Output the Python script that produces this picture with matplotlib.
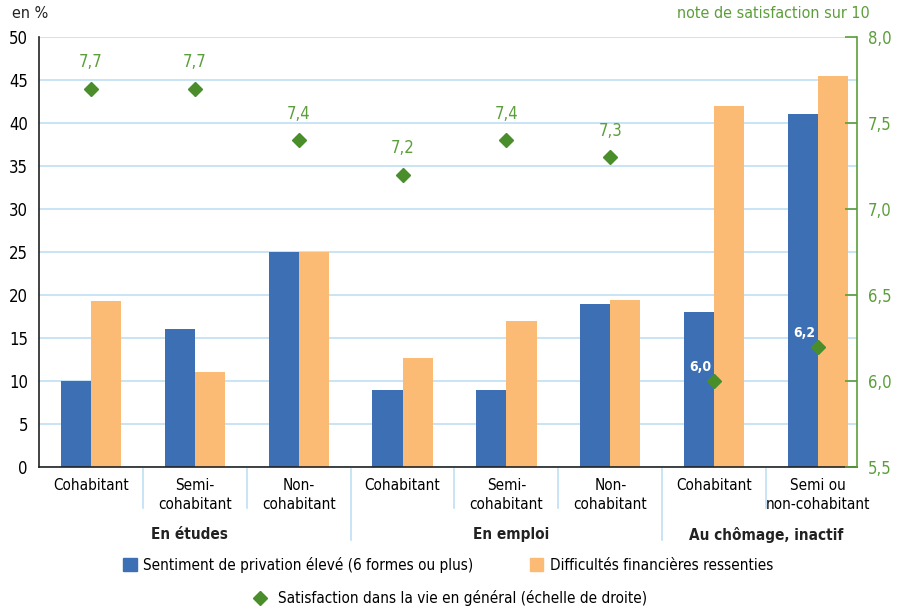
import matplotlib

matplotlib.use('Agg')
import matplotlib.pyplot as plt
from matplotlib.lines import Line2D
from matplotlib.patches import Patch
import matplotlib.transforms as mtransforms

plt.rcParams['font.family'] = ['DejaVu Sans']
plt.rcParams['font.stretch'] = 'condensed'

categories = ["Cohabitant", "Semi-\ncohabitant", "Non-\ncohabitant",
              "Cohabitant", "Semi-\ncohabitant", "Non-\ncohabitant",
              "Cohabitant", "Semi ou\nnon-cohabitant"]
groups = ["En études", "En emploi", "Au chômage, inactif"]
privation = [10, 16, 25, 9, 9, 19, 18, 41]
difficultes = [19.3, 11, 25, 12.7, 17, 19.4, 42, 45.5]
satisfaction = [7.7, 7.7, 7.4, 7.2, 7.4, 7.3, 6.0, 6.2]
sat_labels = ["7,7", "7,7", "7,4", "7,2", "7,4", "7,3", "6,0", "6,2"]

blue = '#3d6fb5'
orange = '#fbbb74'
green = '#5b9e3a'
dgreen = '#4a8e2c'
grid_c = '#bfe0f4'

fig = plt.figure(figsize=(9.12, 6.10), dpi=100)
ax = fig.add_axes([39 / 912, 1 - 467 / 610, (857 - 39) / 912, 430 / 610])

x = list(range(len(categories)))
w = 0.29
ax.bar([i - w / 2 for i in x], privation, w, color=blue, zorder=2)
ax.bar([i + w / 2 for i in x], difficultes, w, color=orange, zorder=2)

ax.set_xlim(-0.5, 7.375)
ax.set_ylim(0, 50)
ax.set_yticks(range(0, 51, 5))
ax.yaxis.grid(True, color=grid_c, linewidth=1.2, zorder=0)
ax.set_axisbelow(True)
ax.tick_params(axis='y', length=0, labelsize=12, pad=8)
ax.set_xticks(x)
ax.set_xticklabels(categories, fontsize=11, linespacing=1.35)
ax.tick_params(axis='x', length=0, pad=8)
for s in ['top', 'right']:
    ax.spines[s].set_visible(False)
ax.spines['left'].set_color('#222222')
ax.spines['bottom'].set_color('#222222')
ax.spines['left'].set_linewidth(1.2)
ax.spines['bottom'].set_linewidth(1.2)

# separators below the axis
trans = mtransforms.blended_transform_factory(ax.transData, ax.transAxes)
for k in range(1, 8):
    bottom = -0.17 if k in (3, 6) else -0.095
    ax.plot([k - 0.5, k - 0.5], [-0.004, bottom], color=grid_c, lw=1.2,
            transform=trans, clip_on=False)

for gi, g in enumerate(groups):
    cx = [0.95, 4.05, 6.5][gi]
    ax.text(cx, -0.158, g, transform=trans, ha='center', va='center',
            fontsize=11, fontweight='bold', color='#222222')

ax2 = ax.twinx()
ax2.set_ylim(5.5, 8.0)
ax2.set_yticks([5.5, 6.0, 6.5, 7.0, 7.5, 8.0])
ax2.set_yticklabels(["5,5", "6,0", "6,5", "7,0", "7,5", "8,0"])
ax2.tick_params(axis='y', direction='in', length=9, color=green,
                labelcolor=green, labelsize=12, pad=8, width=1.2)
for s in ['top', 'left', 'bottom']:
    ax2.spines[s].set_visible(False)
ax2.spines['right'].set_color(green)
ax2.spines['right'].set_linewidth(1.2)
ax2.plot(x, satisfaction, linestyle='none', marker='D', markersize=7,
         color=dgreen, zorder=3)
for i, (v, lab) in enumerate(zip(satisfaction, sat_labels)):
    if i < 6:
        ax2.annotate(lab, (i, v), xytext=(0, 19), textcoords='offset points',
                     ha='center', va='center', fontsize=12, color=green)
    else:
        ax2.annotate(lab, (i, v), xytext=(-10, 10), textcoords='offset points',
                     ha='center', va='center', fontsize=10, color='white',
                     fontweight='bold')

fig.text(12 / 912, 1 - 14 / 610, "en %", fontsize=11.5, va='center', color='#222222')
fig.text(870 / 912, 1 - 14 / 610, "note de satisfaction sur 10", fontsize=11.5,
         va='center', ha='right', color=green)

h1 = [Patch(color=blue, label="Sentiment de privation élevé (6 formes ou plus)"),
      Patch(color=orange, label="Difficultés financières ressenties")]
fig.legend(handles=h1, loc='center', bbox_to_anchor=(448 / 912, 1 - 565 / 610),
           ncol=2, frameon=False, fontsize=11, handlelength=0.9,
           handleheight=0.9, handletextpad=0.4, columnspacing=3.7)
h2 = [Line2D([], [], linestyle='none', marker='D', markersize=7, color=dgreen,
             label="Satisfaction dans la vie en général (échelle de droite)")]
fig.legend(handles=h2, loc='center', bbox_to_anchor=(446 / 912, 1 - 598 / 610),
           frameon=False, fontsize=11, handletextpad=0.2)

plt.savefig('out.png', dpi=100)
